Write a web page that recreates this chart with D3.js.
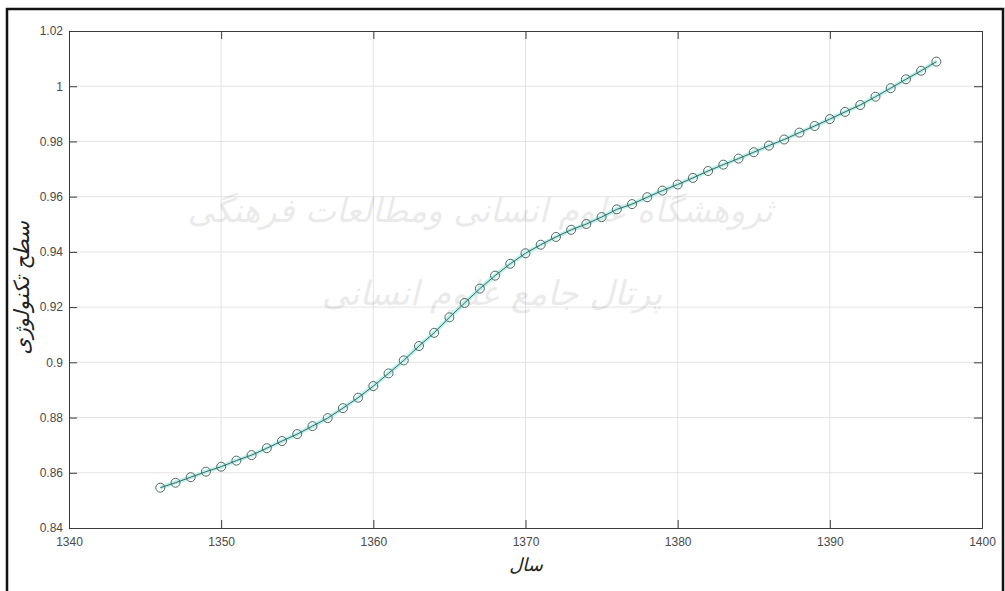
<!DOCTYPE html>
<html>
<head>
<meta charset="utf-8">
<script src="https://cdn.jsdelivr.net/npm/d3@7"></script>
<style>
  html, body { margin: 0; padding: 0; background: #fff; }
  svg { display: block; }
  .tick text { font-family: "Liberation Sans", Arial, sans-serif; font-size: 12px; fill: #4a4a4a; }
</style>
</head>
<body>
<svg id="chart" width="1005" height="591"></svg>
<script>
// Years (solar hijri) and technology level values
const years = [
  1346, 1347, 1348, 1349, 1350, 1351, 1352, 1353, 1354, 1355,
  1356, 1357, 1358, 1359, 1360, 1361, 1362, 1363, 1364, 1365,
  1366, 1367, 1368, 1369, 1370, 1371, 1372, 1373, 1374, 1375,
  1376, 1377, 1378, 1379, 1380, 1381, 1382, 1383, 1384, 1385,
  1386, 1387, 1388, 1389, 1390, 1391, 1392, 1393, 1394, 1395,
  1396, 1397
];
const techLevel = [
  0.8546, 0.8564, 0.8584, 0.8604, 0.8622, 0.8644, 0.8664, 0.8689, 0.8715, 0.8740,
  0.8769, 0.8798, 0.8834, 0.8872, 0.8914, 0.8960, 0.9007, 0.9059, 0.9107, 0.9163,
  0.9215, 0.9267, 0.9314, 0.9357, 0.9395, 0.9426, 0.9454, 0.9480, 0.9501, 0.9526,
  0.9554, 0.9573, 0.9598, 0.9622, 0.9644, 0.9668, 0.9693, 0.9716, 0.9738, 0.9761,
  0.9785, 0.9807, 0.9832, 0.9856, 0.9881, 0.9907, 0.9932, 0.9962, 0.9993, 1.0025,
  1.0056, 1.0089
];
const xTicks = [1340, 1350, 1360, 1370, 1380, 1390, 1400];
const yTicks = [0.84, 0.86, 0.88, 0.90, 0.92, 0.94, 0.96, 0.98, 1.00, 1.02];
const yTickLabels = ["0.84", "0.86", "0.88", "0.9", "0.92", "0.94", "0.96", "0.98", "1", "1.02"];
const xTitle = "سال";
const yTitle = "سطح تکنولوژی";
const watermark = ["ثروهشگاه علوم انسانی ومطالعات فرهنگی", "پرتال جامع علوم انسانی"];

const svg = d3.select("#chart");
const L = 69, R = 982, T = 31, B = 528;

const x = d3.scaleLinear().domain([1340, 1400]).range([L, R]);
const y = d3.scaleLinear().domain([0.84, 1.02]).range([B, T]);

// figure frame
svg.append("rect")
  .attr("x", 7).attr("y", 9).attr("width", 996).attr("height", 600)
  .attr("fill", "none").attr("stroke", "#111").attr("stroke-width", 2.5);

// plot background
svg.append("rect")
  .attr("x", L).attr("y", T).attr("width", R - L).attr("height", B - T)
  .attr("fill", "#fff");

// grid
const grid = svg.append("g").attr("class", "grid");
grid.selectAll("line.gx").data(xTicks.slice(1, -1)).join("line")
  .attr("x1", d => x(d)).attr("x2", d => x(d))
  .attr("y1", T).attr("y2", B)
  .attr("stroke", "#e3e3e3").attr("stroke-width", 1);
grid.selectAll("line.gy").data(yTicks.slice(1, -1)).join("line")
  .attr("x1", L).attr("x2", R)
  .attr("y1", d => y(d)).attr("y2", d => y(d))
  .attr("stroke", "#e3e3e3").attr("stroke-width", 1);

// faint background lettering
const wm = svg.append("g").attr("fill", "#000").attr("opacity", 0.08)
  .attr("font-family", "DejaVu Sans, sans-serif").attr("font-style", "italic")
  .attr("direction", "rtl");
wm.append("text").attr("x", 480).attr("y", 222).attr("text-anchor", "middle")
  .attr("font-size", 33).text(watermark[0]);
wm.append("text").attr("x", 492).attr("y", 305).attr("text-anchor", "middle")
  .attr("font-size", 34).text(watermark[1]);

// axes
const fmt = d => yTickLabels[yTicks.indexOf(d)];
const axB = svg.append("g").attr("transform", `translate(0,${B})`)
  .call(d3.axisBottom(x).tickValues(xTicks).tickSize(-8).tickPadding(9).tickFormat(d3.format("d")));
const axT = svg.append("g").attr("transform", `translate(0,${T})`)
  .call(d3.axisTop(x).tickValues(xTicks).tickSize(-8).tickFormat(""));
const axL = svg.append("g").attr("transform", `translate(${L},0)`)
  .call(d3.axisLeft(y).tickValues(yTicks).tickSize(-8).tickPadding(6).tickFormat(fmt));
const axR = svg.append("g").attr("transform", `translate(${R},0)`)
  .call(d3.axisRight(y).tickValues(yTicks).tickSize(-8).tickFormat(""));
[axB, axT, axL, axR].forEach(a => {
  a.selectAll("path.domain").attr("stroke", "#3a3a3a").attr("stroke-width", 1);
  a.selectAll(".tick line").attr("stroke", "#3a3a3a");
});

// series: soft halo line, then the main line with open circle markers
const line = d3.line().x((d, i) => x(years[i])).y(d => y(d));
svg.append("path").datum(techLevel)
  .attr("d", line).attr("fill", "none")
  .attr("stroke", "#b8f0ec").attr("stroke-width", 4).attr("stroke-linejoin", "round");
svg.append("path").datum(techLevel)
  .attr("d", line).attr("fill", "none")
  .attr("stroke", "#3f6b5f").attr("stroke-width", 1);
svg.append("g").selectAll("circle").data(techLevel).join("circle")
  .attr("cx", (d, i) => x(years[i])).attr("cy", d => y(d)).attr("r", 4.5)
  .attr("fill", "none").attr("stroke", "#4b6a62").attr("stroke-width", 1);

// axis titles
svg.append("text").attr("x", 526).attr("y", 571)
  .attr("text-anchor", "middle").attr("direction", "rtl")
  .attr("font-family", "DejaVu Sans, sans-serif").attr("font-style", "italic")
  .attr("font-size", 18).attr("fill", "#222").text(xTitle);
svg.append("text")
  .attr("transform", "translate(29,288) rotate(-90)")
  .attr("text-anchor", "middle").attr("direction", "rtl")
  .attr("font-family", "DejaVu Sans, sans-serif").attr("font-style", "italic")
  .attr("font-size", 21).attr("fill", "#222").text(yTitle);
</script>
</body>
</html>
